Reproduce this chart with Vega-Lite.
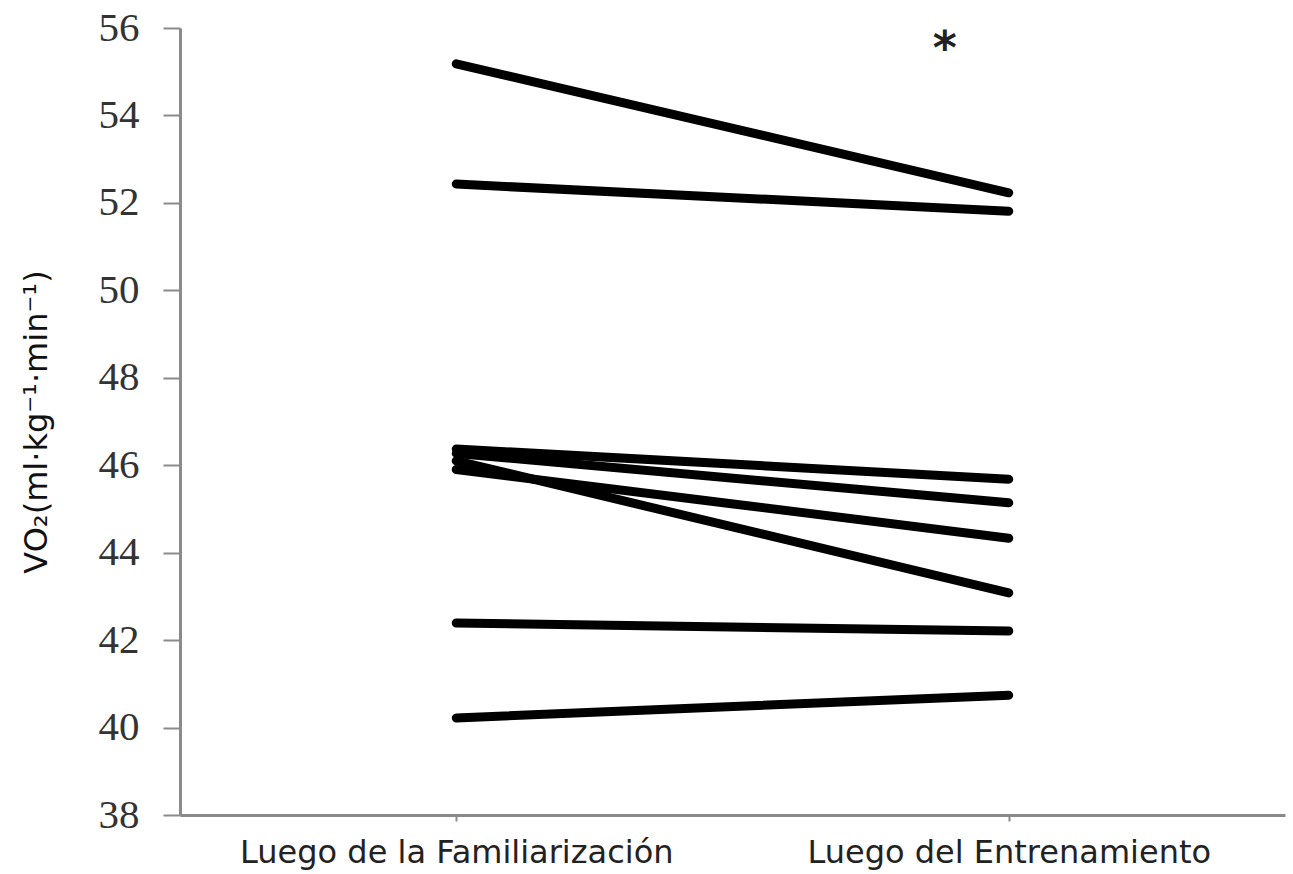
{
  "$schema": "https://vega.github.io/schema/vega-lite/v6.json",
  "autosize": "none",
  "width": 1105,
  "height": 787,
  "padding": {"left": 180, "top": 28, "right": 8, "bottom": 59},
  "background": "white",
  "config": {"view": {"stroke": null}},
  "data": {"values": [
    {"sujeto": 1, "momento": "Luego de la Familiarización", "vo2": 55.18},
    {"sujeto": 1, "momento": "Luego del Entrenamiento", "vo2": 52.23},
    {"sujeto": 2, "momento": "Luego de la Familiarización", "vo2": 52.43},
    {"sujeto": 2, "momento": "Luego del Entrenamiento", "vo2": 51.81},
    {"sujeto": 3, "momento": "Luego de la Familiarización", "vo2": 46.37},
    {"sujeto": 3, "momento": "Luego del Entrenamiento", "vo2": 45.68},
    {"sujeto": 4, "momento": "Luego de la Familiarización", "vo2": 46.27},
    {"sujeto": 4, "momento": "Luego del Entrenamiento", "vo2": 45.14},
    {"sujeto": 5, "momento": "Luego de la Familiarización", "vo2": 45.9},
    {"sujeto": 5, "momento": "Luego del Entrenamiento", "vo2": 44.33},
    {"sujeto": 6, "momento": "Luego de la Familiarización", "vo2": 46.1},
    {"sujeto": 6, "momento": "Luego del Entrenamiento", "vo2": 43.08},
    {"sujeto": 7, "momento": "Luego de la Familiarización", "vo2": 42.39},
    {"sujeto": 7, "momento": "Luego del Entrenamiento", "vo2": 42.21},
    {"sujeto": 8, "momento": "Luego de la Familiarización", "vo2": 40.22},
    {"sujeto": 8, "momento": "Luego del Entrenamiento", "vo2": 40.74}
  ]},
  "layer": [
    {
      "mark": {"type": "line", "color": "black", "strokeWidth": 9, "strokeCap": "round"},
      "encoding": {
        "x": {
          "field": "momento", "type": "nominal",
          "sort": ["Luego de la Familiarización", "Luego del Entrenamiento"],
          "scale": {"type": "point", "padding": 0.5},
          "axis": {
            "title": null, "labelAngle": 0, "labelLimit": 0,
            "labelFont": "DejaVu Sans", "labelFontSize": 32, "labelColor": "#222",
            "labelPadding": 16, "domainColor": "#8a8a8a", "domainWidth": 3,
            "tickColor": "#8a8a8a", "tickWidth": 2, "tickSize": 6
          }
        },
        "y": {
          "field": "vo2", "type": "quantitative",
          "scale": {"domain": [38, 56], "nice": false, "zero": false},
          "axis": {
            "values": [38, 40, 42, 44, 46, 48, 50, 52, 54, 56],
            "grid": false,
            "title": "VO₂(ml·kg⁻¹·min⁻¹)",
            "titleFont": "DejaVu Sans", "titleFontSize": 32, "titleFontWeight": "normal",
            "titleColor": "#111", "titlePadding": 45,
            "labelFont": "Liberation Serif", "labelFontSize": 41, "labelColor": "#333",
            "labelPadding": 24,
            "domainColor": "#8a8a8a", "domainWidth": 3,
            "tickColor": "#8a8a8a", "tickWidth": 2, "tickSize": 17
          }
        },
        "detail": {"field": "sujeto", "type": "nominal"}
      }
    },
    {
      "data": {"values": [{"momento": "Luego del Entrenamiento", "vo2": 55.5, "marca": "*"}]},
      "mark": {"type": "text", "font": "DejaVu Sans", "fontWeight": "bold", "fontSize": 46, "color": "#222", "dx": -64, "baseline": "middle"},
      "encoding": {
        "x": {"field": "momento", "type": "nominal", "sort": ["Luego de la Familiarización", "Luego del Entrenamiento"]},
        "y": {"field": "vo2", "type": "quantitative"},
        "text": {"field": "marca"}
      }
    }
  ]
}
